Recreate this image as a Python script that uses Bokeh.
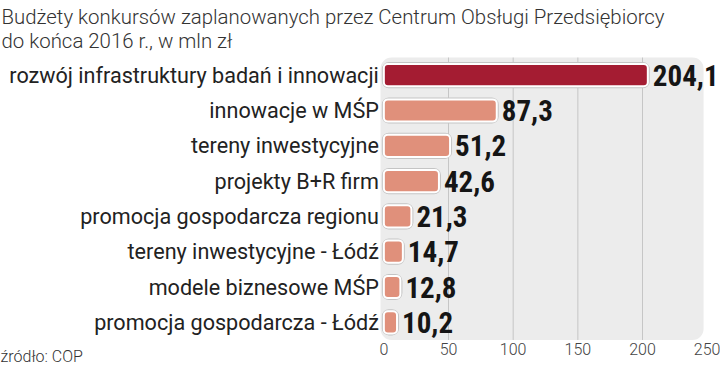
from bokeh.plotting import figure
from bokeh.models import ColumnDataSource, Range1d, BoxAnnotation, Label
from bokeh.embed import file_html
from bokeh.resources import INLINE
from bokeh.core.properties import value

categories = [
    "rozwój infrastruktury badań i innowacji",
    "innowacje w MŚP",
    "tereny inwestycyjne",
    "projekty B+R firm",
    "promocja gospodarcza regionu",
    "tereny inwestycyjne - Łódź",
    "modele biznesowe MŚP",
    "promocja gospodarcza - Łódź",
]
values = [204.1, 87.3, 51.2, 42.6, 21.3, 14.7, 12.8, 10.2]
bar_colors = ["#a41c32", "#e0907b", "#e0907b", "#e0907b", "#e0907b", "#e0907b", "#e0907b", "#e0907b"]
x_ticks = [0, 50, 100, 150, 200, 250]
grid_ticks = [50, 100, 150, 200]
title_lines = [
    "Budżety konkursów zaplanowanych przez Centrum Obsługi Przedsiębiorcy",
    "do końca 2016 r., w mln zł",
]
source_text = "źródło: COP"

n = len(categories)
rows = [n - 1 - i for i in range(n)]          # first category on top
value_labels = [f"{v:.1f}".replace(".", ",") for v in values]

src = ColumnDataSource(dict(row=rows, cat=categories, val=values, color=bar_colors, label=value_labels))

p = figure(
    width=720, height=366,
    x_range=Range1d(-296.4, 260.3),
    y_range=Range1d(-1.252, 9.116),
    x_axis_location=None, y_axis_location=None,
    output_backend="svg", toolbar_location=None,
    min_border_left=0, min_border_right=0, min_border_top=0, min_border_bottom=0,
)
p.outline_line_color = None
p.background_fill_color = "white"
p.border_fill_color = "white"
p.grid.visible = False

# light background panel with rounded corners
p.add_layout(BoxAnnotation(left=-2.55, right=247.2, bottom=-0.5, top=n - 0.5,
                           fill_color="#ececec", fill_alpha=1.0, line_color=None,
                           border_radius=11, level="underlay"))

# vertical grid lines
p.segment(x0=grid_ticks, x1=grid_ticks, y0=[-0.5] * len(grid_ticks), y1=[n - 0.5] * len(grid_ticks),
          line_color="#c6c6c6", line_width=1)

# x tick labels
p.text(x=x_ticks, y=[-0.77] * len(x_ticks), text=[str(t) for t in x_ticks],
       text_align="center", text_baseline="middle",
       text_font=value("Roboto Light, Roboto"), text_font_size="16px", text_color="#444444")

# bars: faint shadow ring, then bar with white border
p.hbar(y="row", left=0, right="val", height=0.63, fill_color=None,
       line_color="#c4c4c4", line_width=4, border_radius=5, source=src)
p.hbar(y="row", left=0, right="val", height=0.63, fill_color="color",
       line_color="white", line_width=2, border_radius=4, source=src)

# category labels
p.text(x=0, y="row", text="cat", x_offset=-5, text_align="right", text_baseline="middle",
       text_font=value("Roboto"), text_font_size="21.6px", text_color="#222222", source=src)

# value labels
p.text(x="val", y="row", text="label", x_offset=5, text_baseline="middle",
       text_font=value("Roboto Condensed, Roboto"), text_font_style="bold",
       text_font_size="29px", text_color="#151515", source=src)

# title and source
p.add_layout(Label(x=1, y=350, x_units="screen", y_units="screen", text=title_lines[0],
                   text_font="Roboto Light, Roboto", text_font_size="20.4px",
                   text_color="#333333", text_baseline="alphabetic"))
p.add_layout(Label(x=1, y=326, x_units="screen", y_units="screen", text=title_lines[1],
                   text_font="Roboto Light, Roboto", text_font_size="20.4px",
                   text_color="#333333", text_baseline="alphabetic"))
p.add_layout(Label(x=0, y=10, x_units="screen", y_units="screen", text=source_text,
                   text_font="Roboto Light, Roboto", text_font_size="16px",
                   text_color="#333333", text_baseline="alphabetic"))

open("out.html", "w").write(file_html(p, INLINE))
